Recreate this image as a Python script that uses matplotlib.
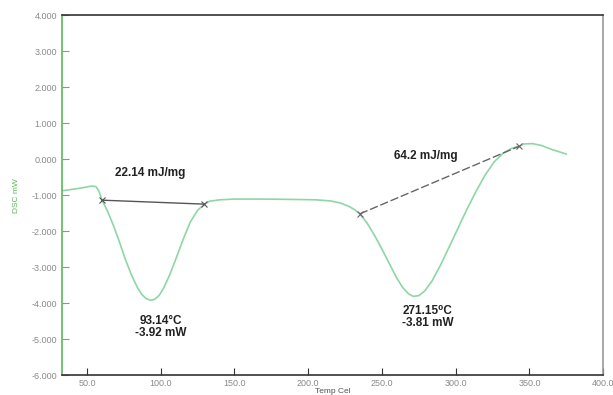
import numpy as np
import matplotlib.pyplot as plt

plt.rcParams['font.family'] = ['Liberation Sans', 'DejaVu Sans']

# DSC trace, temperature (Cel) vs heat flow (mW)
temp = [33, 45, 53, 56, 58, 60.2, 64, 68, 72, 76, 80, 84, 87, 90, 93.14, 96, 99,
        102, 106, 110, 115, 120, 125, 129.6, 133, 140, 150, 170, 190, 205, 215,
        222, 228, 232, 235, 240, 245, 250, 255, 260, 264, 268, 271.15, 275, 279,
        284, 290, 296, 302, 308, 314, 320, 326, 332, 338, 343.2, 346, 352, 358,
        365, 375]
dsc = [-0.88, -0.81, -0.75, -0.76, -0.88, -1.14, -1.45, -1.85, -2.30, -2.78, -3.20,
       -3.55, -3.75, -3.87, -3.92, -3.89, -3.78, -3.58, -3.22, -2.80, -2.25, -1.75,
       -1.42, -1.25, -1.17, -1.13, -1.11, -1.11, -1.12, -1.13, -1.16, -1.22, -1.32,
       -1.42, -1.52, -1.78, -2.12, -2.50, -2.90, -3.30, -3.56, -3.74, -3.81, -3.79,
       -3.66, -3.38, -2.92, -2.40, -1.88, -1.36, -0.88, -0.44, -0.08, 0.16, 0.30,
       0.36, 0.42, 0.43, 0.38, 0.27, 0.14]

# integration baselines (start, end) for each peak
base1_t = [60.2, 129.6]
base1_y = [-1.14, -1.25]
base2_t = [235, 343.2]
base2_y = [-1.52, 0.36]

enthalpy = ['22.14 mJ/mg', '64.2 mJ/mg']
peaks = ['93.14\u00b0C\n-3.92 mW', '271.15\u2070C\n-3.81 mW']

xticks = [50, 100, 150, 200, 250, 300, 350, 400]
yticks = [4, 3, 2, 1, 0, -1, -2, -3, -4, -5, -6]

green = '#5cb85c'
trace = '#8ed6a6'
grey = '#8a8a8a'

fig = plt.figure(figsize=(6.13, 3.95), dpi=100)
ax = fig.add_axes([0.101, 0.05, 0.883, 0.912])

ax.plot(temp, dsc, color=trace, lw=1.2)
ax.plot(base1_t, base1_y, color='#555555', lw=1.0, marker='x', ms=4, mew=0.8)
ax.plot(base2_t, base2_y, color='#666666', lw=1.0, ls=(0, (6, 2)), marker='x', ms=4, mew=0.8)

ax.text(93, -0.38, enthalpy[0], ha='center', va='center', fontsize=8.5,
        fontweight='bold', color='#222222')
ax.text(280, 0.09, enthalpy[1], ha='center', va='center', fontsize=8.5,
        fontweight='bold', color='#222222')
ax.text(100, -4.65, peaks[0], ha='center', va='center', fontsize=8.5,
        fontweight='bold', color='#222222', linespacing=1.0)
ax.text(281, -4.38, peaks[1], ha='center', va='center', fontsize=8.5,
        fontweight='bold', color='#222222', linespacing=1.0)

ax.set_xlim(33, 400)
ax.set_ylim(-6, 4)
ax.set_xticks(xticks)
ax.set_xticklabels(['{:.1f}'.format(t) for t in xticks])
ax.set_yticks(yticks)
ax.set_yticklabels(['{:.3f}'.format(v) for v in yticks])
ax.tick_params(direction='in', length=5, labelsize=6.5, labelcolor=grey)
ax.tick_params(axis='y', color=green)
ax.tick_params(axis='x', color='#333333', pad=3)

ax.spines['left'].set_color(green)
ax.spines['top'].set_color('#333333')
ax.spines['bottom'].set_color('#333333')
ax.spines['right'].set_color('#999999')
for s in ax.spines.values():
    s.set_linewidth(1.2)

ax.set_ylabel('DSC mW', color=green, fontsize=6, labelpad=8)
ax.set_xlabel('Temp Cel', color='#555555', fontsize=6, labelpad=0)

fig.savefig('out.png')
